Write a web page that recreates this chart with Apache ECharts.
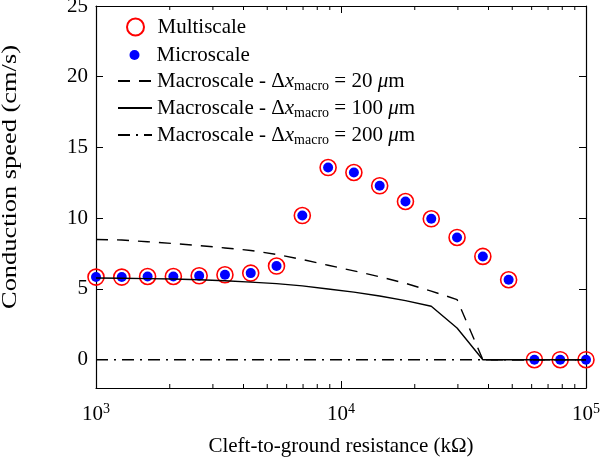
<!DOCTYPE html>
<html>
<head>
<meta charset="utf-8">
<script src="https://cdn.jsdelivr.net/npm/echarts@6/dist/echarts.min.js"></script>
<style>html,body{margin:0;padding:0;background:#fff}#c{width:600px;height:457px}</style>
</head>
<body>
<div id="c"></div>
<script>
// Cleft-to-ground resistance (kΩ)
const resistance = [1000, 1274, 1624, 2069, 2637, 3360, 4281, 5456, 6952, 8859,
  11288, 14384, 18330, 23357, 29764, 37927, 48329, 61585, 78476, 100000];
// Conduction speed (cm/s)
const multiscale = [5.84, 5.84, 5.88, 5.88, 5.93, 6.00, 6.12, 6.62, 10.19, 13.58,
  13.23, 12.29, 11.18, 9.96, 8.64, 7.30, 5.65, 0, 0, 0];
const microscale = [5.84, 5.84, 5.88, 5.88, 5.93, 6.00, 6.12, 6.62, 10.19, 13.58,
  13.23, 12.29, 11.18, 9.96, 8.64, 7.30, 5.65, 0, 0, 0];
const macro20 = [8.50, 8.46, 8.34, 8.21, 8.07, 7.90, 7.72, 7.44, 7.08, 6.68,
  6.28, 5.86, 5.40, 4.85, 4.25, 0, 0, 0, 0, 0];
const macro100 = [5.78, 5.76, 5.73, 5.70, 5.65, 5.58, 5.48, 5.38, 5.22, 5.00,
  4.78, 4.50, 4.18, 3.78, 2.24, 0, 0, 0, 0, 0];
const macro200 = [0, 0, 0, 0, 0, 0, 0, 0, 0, 0, 0, 0, 0, 0, 0, 0, 0, 0, 0, 0];
const yTicks = [0, 5, 10, 15, 20, 25];
const xMinorTicks = [2000, 3000, 4000, 5000, 6000, 7000, 8000, 9000,
  20000, 30000, 40000, 50000, 60000, 70000, 80000, 90000];
const seriesNames = ['Multiscale', 'Microscale',
  'Macroscale - Δx_macro = 20 μm', 'Macroscale - Δx_macro = 100 μm', 'Macroscale - Δx_macro = 200 μm'];
const macroDx = {'Macroscale - Δx_macro = 20 μm': '20', 'Macroscale - Δx_macro = 100 μm': '100', 'Macroscale - Δx_macro = 200 μm': '200'};
const yTitle = 'Conduction speed (cm/s)';
const xTitle = 'Cleft-to-ground resistance (kΩ)';

const FONT = "'Liberation Serif', 'Times New Roman', serif";
const pairs = (ys) => resistance.map((x, i) => [x, ys[i]]);

const chart = echarts.init(document.getElementById('c'), null, {renderer: 'canvas'});

const legendRich = {
  t: {fontFamily: FONT, fontSize: 21, lineHeight: 24, color: '#000'},
  i: {fontFamily: FONT, fontSize: 21, lineHeight: 24, fontStyle: 'italic', color: '#000'},
  sub: {fontFamily: FONT, fontSize: 14, lineHeight: 14, verticalAlign: 'bottom', color: '#000'}
};

const option = {
  animation: false,
  backgroundColor: '#fff',
  grid: {left: 96, right: 14, top: 6, bottom: 69, containLabel: false, outerBoundsMode: 'none'},
  graphic: [{
    type: 'text', x: 11, y: 177, rotation: Math.PI / 2, scaleX: 1.32, silent: true,
    style: {text: yTitle, fontFamily: FONT, fontSize: 20, fill: '#000',
      align: 'center', verticalAlign: 'middle', textAlign: 'center', textVerticalAlign: 'middle'}
  }],
  xAxis: [{
    type: 'log', logBase: 10, min: 1000, max: 100000,
    name: xTitle, nameLocation: 'middle', nameGap: 48,
    nameTextStyle: {fontFamily: FONT, fontSize: 21, color: '#000'},
    axisLine: {show: true, onZero: false, lineStyle: {color: '#000', width: 1.2}},
    axisTick: {show: true, inside: true, length: 7, lineStyle: {color: '#000', width: 1}},
    splitLine: {show: false},
    axisLabel: {
      margin: 14,
      formatter: function (v) { return '{b|10}{s|' + Math.round(Math.log10(v)) + '}'; },
      rich: {
        b: {fontFamily: FONT, fontSize: 21, lineHeight: 24, color: '#000'},
        s: {fontFamily: FONT, fontSize: 14, lineHeight: 14, verticalAlign: 'top', color: '#000'}
      }
    }
  }, {
    type: 'log', logBase: 10, min: 1000, max: 100000, position: 'top',
    axisLine: {show: true, onZero: false, lineStyle: {color: '#000', width: 1.2}},
    axisTick: {show: true, inside: true, length: 7, lineStyle: {color: '#000', width: 1}},
    axisLabel: {show: false}, splitLine: {show: false}
  }],
  yAxis: [{
    type: 'value', min: -2, max: 25,
    axisLine: {show: true, onZero: false, lineStyle: {color: '#000', width: 1.2}},
    axisTick: {show: true, inside: true, length: 7, customValues: yTicks, lineStyle: {color: '#000', width: 1}},
    axisLabel: {customValues: yTicks, margin: 8, fontFamily: FONT, fontSize: 21, color: '#000'},
    splitLine: {show: false}
  }, {
    type: 'value', min: -2, max: 25, position: 'right',
    axisLine: {show: true, onZero: false, lineStyle: {color: '#000', width: 1.2}},
    axisTick: {show: true, inside: true, length: 7, customValues: yTicks, lineStyle: {color: '#000', width: 1}},
    axisLabel: {show: false, customValues: yTicks}, splitLine: {show: false}
  }],
  legend: [{
    data: [seriesNames[0]], orient: 'vertical', left: 126, top: 15, padding: 0,
    itemWidth: 34, itemHeight: 17, itemGap: 3,
    textStyle: {fontFamily: FONT, fontSize: 21, lineHeight: 24, color: '#000'}
  }, {
    data: [seriesNames[1]], orient: 'vertical', left: 129.5, top: 43, padding: 0,
    itemWidth: 34, itemHeight: 10, itemGap: 3,
    textStyle: {fontFamily: FONT, fontSize: 21, lineHeight: 24, color: '#000'}
  }, {
    data: [seriesNames[2], seriesNames[3], seriesNames[4]], orient: 'vertical', left: 117, top: 69, padding: 0,
    itemWidth: 34, itemHeight: 14, itemGap: 3,
    itemStyle: {color: 'rgba(0,0,0,0)', borderColor: 'rgba(0,0,0,0)', borderWidth: 0, opacity: 0},
    formatter: function (name) {
      return '{t|Macroscale - Δ}{i|x}{sub|macro}{t| = ' + macroDx[name] + ' }{i|μ}{t|m}';
    },
    textStyle: {fontFamily: FONT, fontSize: 21, lineHeight: 24, color: '#000', rich: legendRich}
  }],
  series: [{
    name: seriesNames[2], type: 'line', data: pairs(macro20), symbol: 'none', showSymbol: false,
    lineStyle: {color: '#000', width: 1.4, type: [12, 9]}, itemStyle: {color: '#000'}
  }, {
    name: seriesNames[3], type: 'line', data: pairs(macro100), symbol: 'none', showSymbol: false,
    lineStyle: {color: '#000', width: 1.4, type: 'solid'}, itemStyle: {color: '#000'}
  }, {
    name: seriesNames[4], type: 'line', data: pairs(macro200), symbol: 'none', showSymbol: false,
    lineStyle: {color: '#000', width: 1.4, type: [12, 6, 2, 6]}, itemStyle: {color: '#000'}
  }, {
    name: seriesNames[0], type: 'scatter', data: pairs(multiscale), symbol: 'circle', symbolSize: 16,
    itemStyle: {color: 'rgba(255,255,255,0)', borderColor: '#ff0000', borderWidth: 1.6, opacity: 1}
  }, {
    name: seriesNames[1], type: 'scatter', data: pairs(microscale), symbol: 'circle', symbolSize: 10,
    itemStyle: {color: '#0000ff', opacity: 1}
  }, {
    type: 'custom', silent: true, clip: false, z: 5,
    data: xMinorTicks.map(v => [v, 0]),
    encode: {x: 0, y: 1},
    renderItem: function (params, api) {
      const x = api.coord([api.value(0), 0])[0];
      const cs = params.coordSys;
      return {type: 'group', children: [
        {type: 'line', shape: {x1: x, y1: cs.y + cs.height, x2: x, y2: cs.y + cs.height - 4}, style: {stroke: '#000', lineWidth: 1}},
        {type: 'line', shape: {x1: x, y1: cs.y, x2: x, y2: cs.y + 4}, style: {stroke: '#000', lineWidth: 1}}
      ]};
    }
  }]
};
chart.setOption(option);
</script>
</body>
</html>
